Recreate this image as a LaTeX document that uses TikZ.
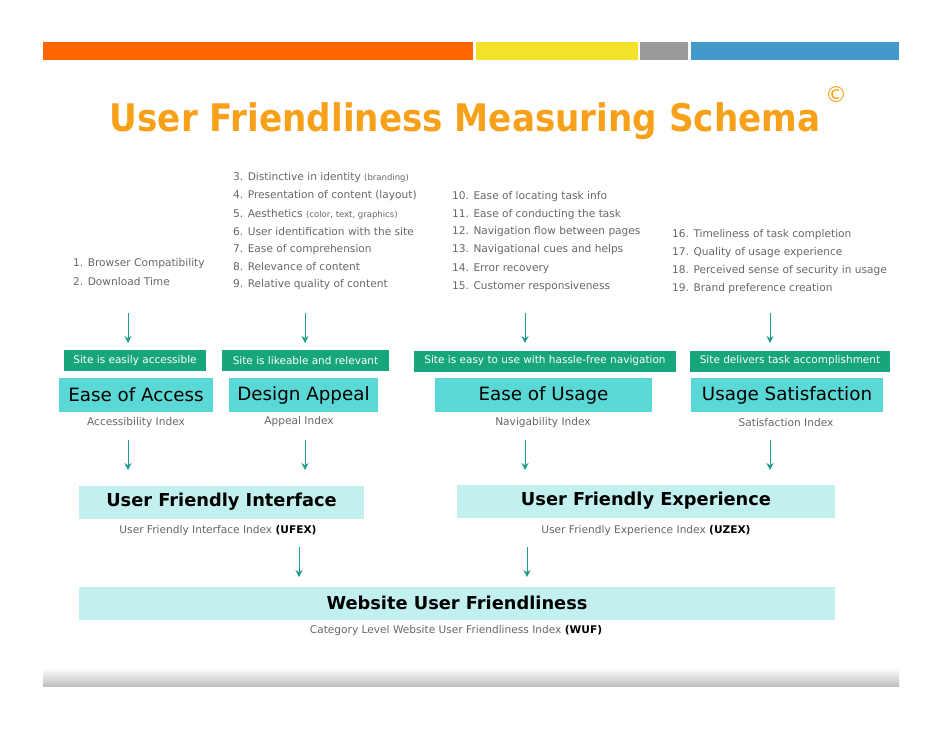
\documentclass[tikz,border=0pt]{standalone}
\usepackage{fontspec}
\setmainfont{DejaVu Sans}
\newfontfamily\condb{DejaVu Sans Condensed}
\usetikzlibrary{arrows.meta}
\definecolor{orangebar}{HTML}{FF6600}
\definecolor{yellowbar}{HTML}{F2E22A}
\definecolor{graybar}{HTML}{9A9A9A}
\definecolor{bluebar}{HTML}{4499CC}
\definecolor{titleor}{HTML}{F7A11A}
\definecolor{greenlab}{HTML}{17A57C}
\definecolor{cyanbox}{HTML}{5AD8D5}
\definecolor{lightcy}{HTML}{C2F0EF}
\definecolor{arrowc}{HTML}{1F9E8C}
\definecolor{txtg}{HTML}{666666}
\begin{document}
\begin{tikzpicture}[x=1pt,y=-1pt,
  lst/.style={anchor=west,font=\fontsize{10.6}{12}\selectfont,text=txtg,inner sep=0},
  glab/.style={fill=greenlab,text=white,font=\fontsize{10.5}{12}\selectfont,inner sep=0,minimum height=21pt},
  cbox/.style={fill=cyanbox,text=black,font=\fontsize{18.3}{20}\selectfont,inner sep=0,minimum height=34pt},
  lbox/.style={fill=lightcy,text=black,font=\bfseries\fontsize{17.8}{20}\selectfont,inner sep=0,minimum height=33pt},
  idx/.style={font=\fontsize{10.6}{12}\selectfont,text=txtg,inner sep=0},
  arr/.style={draw=arrowc,line width=1pt,-{Stealth[length=7pt,width=7pt]}}]
\useasboundingbox (0,0) rectangle (942,728);
% top bars
\fill[orangebar] (43,42) rectangle (473,60);
\fill[yellowbar] (476,42) rectangle (638,60);
\fill[graybar] (640,42) rectangle (688,60);
\fill[bluebar] (691,42) rectangle (899,60);
% title
\node[text=titleor,font=\condb\bfseries\fontsize{38}{40}\selectfont,inner sep=0] (title) at (465,121) {User Friendliness Measuring Schema};
\node[text=titleor,font=\fontsize{22}{24}\selectfont,inner sep=0] (copy) at (836,95) {©};
% lists
\node[lst] (a1) at (73,264) {1. Browser Compatibility};
\node[lst] (a2) at (73,282) {2. Download Time};
\node[lst] (b3) at (233,178) {3. Distinctive in identity {\fontsize{8.5}{10}\selectfont(branding)}};
\node[lst] (b4) at (233,196) {4. Presentation of content (layout)};
\node[lst] (b5) at (233,214) {5. Aesthetics {\fontsize{8.5}{10}\selectfont(color, text, graphics)}};
\node[lst] (b6) at (233,232) {6. User identification with the site};
\node[lst] (b7) at (233,250) {7. Ease of comprehension};
\node[lst] (b8) at (233,267) {8. Relevance of content};
\node[lst] (b9) at (233,285) {9. Relative quality of content};
\node[lst] (c10) at (452,197) {10. Ease of locating task info};
\node[lst] (c11) at (452,215) {11. Ease of conducting the task};
\node[lst] (c12) at (452,232) {12. Navigation flow between pages};
\node[lst] (c13) at (452,250) {13. Navigational cues and helps};
\node[lst] (c14) at (452,269) {14. Error recovery};
\node[lst] (c15) at (452,287) {15. Customer responsiveness};
\node[lst] (d16) at (672,235) {16. Timeliness of task completion};
\node[lst] (d17) at (672,253) {17. Quality of usage experience};
\node[lst] (d18) at (672,271) {18. Perceived sense of security in usage};
\node[lst] (d19) at (672,289) {19. Brand preference creation};
% arrow coordinates
\coordinate (s1) at (128,313);
\coordinate (s2) at (305,313);
\coordinate (s3) at (525,313);
\coordinate (s4) at (770,313);
\coordinate (e1) at (128,343); \coordinate (e2) at (305,343);
\coordinate (e3) at (525,343); \coordinate (e4) at (770,343);
% green labels
\node[glab,minimum width=142pt] (g1) at (135,360.5) {Site is easily accessible};
\node[glab,minimum width=167pt] (g2) at (305.5,360.5) {Site is likeable and relevant};
\node[glab,minimum width=262pt] (g3) at (545,361) {Site is easy to use with hassle-free navigation};
\node[glab,minimum width=200pt] (g4) at (790,361) {Site delivers task accomplishment};
\draw[arr] (s1) -- (e1); \draw[arr] (s2) -- (e2);
\draw[arr] (s3) -- (e3); \draw[arr] (s4) -- (e4);
% cyan boxes
\node[cbox,minimum width=154pt] (k1) at (136,395) {Ease of Access};
\node[cbox,minimum width=149pt] (k2) at (303.5,395) {Design Appeal};
\node[cbox,minimum width=217pt] (k3) at (543.5,395) {Ease of Usage};
\node[cbox,minimum width=192pt] (k4) at (787,395) {Usage Satisfaction};
\node[idx] (i1) at (136,423) {Accessibility Index};
\node[idx] (i2) at (299,422) {Appeal Index};
\node[idx] (i3) at (543,423) {Navigability Index};
\node[idx] (i4) at (786,423) {Satisfaction Index};
\coordinate (t1) at (128,440); \coordinate (t2) at (305,440);
\coordinate (t3) at (525,440); \coordinate (t4) at (770,440);
\coordinate (u1) at (128,470); \coordinate (u2) at (305,470);
\coordinate (u3) at (525,470); \coordinate (u4) at (770,470);
\draw[arr] (t1) -- (u1); \draw[arr] (t2) -- (u2);
\draw[arr] (t3) -- (u3); \draw[arr] (t4) -- (u4);
% light boxes
\node[lbox,minimum width=285pt] (ufi) at (221.5,502) {User Friendly Interface};
\node[lbox,minimum width=378pt] (ufe) at (646,501) {User Friendly Experience};
\node[idx] (ufix) at (218,531) {User Friendly Interface Index {\bfseries\color{black}(UFEX)}};
\node[idx] (ufex) at (646,531) {User Friendly Experience Index {\bfseries\color{black}(UZEX)}};
\coordinate (v1) at (299,547); \coordinate (v2) at (527,547);
\coordinate (w1) at (299,577); \coordinate (w2) at (527,577);
\draw[arr] (v1) -- (w1); \draw[arr] (v2) -- (w2);
\node[lbox,minimum width=756pt] (wuf) at (457,603) {Website User Friendliness};
\node[idx] (wufx) at (456,631) {Category Level Website User Friendliness Index {\bfseries\color{black}(WUF)}};
% bottom bar
\shade[top color=white,bottom color=black!25] (43,668) rectangle (899,686);
\end{tikzpicture}
\end{document}
